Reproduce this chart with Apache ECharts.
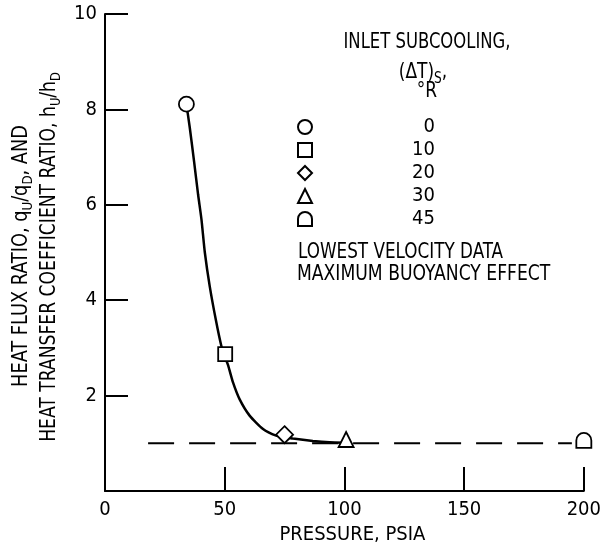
<!DOCTYPE html>
<html>
<head>
<meta charset="utf-8">
<script src="https://cdn.jsdelivr.net/npm/echarts@6/dist/echarts.min.js"></script>
<style>
html,body{margin:0;padding:0;background:#fff;}
#chart{width:604px;height:550px;}
</style>
</head>
<body>
<div id="chart"></div>
<script>
// ---- data ----
var xTicks = [0, 50, 100, 150, 200];
var yTicks = [0, 2, 4, 6, 8, 10];
var subcoolingLabels = ['0', '10', '20', '30', '45'];
var pointPressure = [34, 50.2, 75, 100.7, 200];
var pointRatio = [8.11, 2.87, 1.18, 1.08, 1.06];
// faired curve
var curvePressure = [34.0, 35.4, 37.2, 38.9, 40.3, 41.7, 43.75, 46.25, 48.6, 50.2, 51.4, 53.5, 56.25, 60.4, 66.0, 71.5, 75.0, 78.5, 86.8, 93.75, 100.0];
var curveRatio    = [8.11, 7.62, 6.91, 6.21, 5.69, 5.00, 4.29, 3.60, 3.04, 2.80, 2.64, 2.27, 1.92, 1.58, 1.30, 1.16, 1.13, 1.10, 1.05, 1.02, 1.01];
// reference line (ratio = 1)
var refPressure = [18, 195];
var refRatio = [1.0, 1.0];

var FONT = "'DejaVu Sans Condensed', 'Liberation Sans Narrow', sans-serif";
var dShape = 'path://M0,14 L0,7 A7,7 0 0 1 14,7 L14,14 Z';
var symbols = ['circle', 'rect', 'diamond', 'triangle', dShape];
var symbolSizes = [15, 14, 17, 15, 15];

function zip(a, b) { return a.map(function (v, i) { return [v, b[i]]; }); }

var series = [
  {
    type: 'line', name: 'curve', data: zip(curvePressure, curveRatio),
    smooth: 0.2, showSymbol: false, symbol: 'none',
    lineStyle: { color: '#000', width: 2.5 }, z: 2, silent: true
  },
  {
    type: 'line', name: 'ref', data: zip(refPressure, refRatio),
    showSymbol: false, symbol: 'none',
    lineStyle: { color: '#000', width: 2, type: [26, 15] }, z: 1, silent: true
  }
];
subcoolingLabels.forEach(function (lab, i) {
  series.push({
    type: 'scatter', name: lab,
    data: [[pointPressure[i], pointRatio[i]]],
    symbol: symbols[i], symbolSize: symbolSizes[i], symbolKeepAspect: true,
    itemStyle: { color: '#fff', borderColor: '#000', borderWidth: 1.8, opacity: 1 },
    clip: false,
    z: 5
  });
});

var chart = echarts.init(document.getElementById('chart'), null, { renderer: 'canvas' });
chart.setOption({
  animation: false,
  backgroundColor: '#fff',
  textStyle: { fontFamily: FONT },
  grid: { left: 105, right: 18, top: 14, bottom: 58, containLabel: false },
  xAxis: {
    type: 'value', min: xTicks[0], max: xTicks[xTicks.length - 1], interval: xTicks[1] - xTicks[0],
    name: 'PRESSURE, PSIA', nameLocation: 'middle', nameGap: 34,
    nameTextStyle: { fontFamily: FONT, fontSize: 20, color: '#000', padding: [0, 0, 0, 16] },
    axisLine: { onZero: false, lineStyle: { color: '#000', width: 2 } },
    axisTick: { inside: true, length: 24, lineStyle: { color: '#000', width: 2 } },
    axisLabel: { fontFamily: FONT, fontSize: 20, color: '#000', margin: 9 },
    splitLine: { show: false }
  },
  yAxis: {
    type: 'value', min: yTicks[0], max: yTicks[yTicks.length - 1], interval: yTicks[1] - yTicks[0],
    axisLine: { show: true, onZero: false, lineStyle: { color: '#000', width: 2 } },
    axisTick: { show: true, inside: true, length: 23, lineStyle: { color: '#000', width: 2 } },
    axisLabel: { fontFamily: FONT, fontSize: 20, color: '#000', margin: 8, showMinLabel: false },
    splitLine: { show: false }
  },
  legend: {
    data: subcoolingLabels,
    orient: 'vertical', left: 292, top: 112,
    itemWidth: 14, itemHeight: 14, itemGap: 3,
    selectedMode: false,
    formatter: function (n) { return '{v|' + n + '}'; },
    textStyle: {
      fontFamily: FONT, fontSize: 20, color: '#000', lineHeight: 19,
      rich: { v: { width: 118, align: 'right', fontFamily: FONT, fontSize: 20, lineHeight: 19 } }
    }
  },
  graphic: [
    {
      type: 'text', x: 22, y: 256, rotation: Math.PI / 2, scaleX: 0.94,
      style: {
        text: '{t|HEAT FLUX RATIO, q}{s|U}{t|/q}{s|D}{t|, AND}',
        align: 'center', verticalAlign: 'middle', fill: '#000',
        rich: {
          t: { fontFamily: FONT, fontSize: 21, lineHeight: 21, verticalAlign: 'top' },
          s: { fontFamily: FONT, fontSize: 14, lineHeight: 14, verticalAlign: 'top', padding: [10, 0, 0, 0] }
        }
      }
    },
    {
      type: 'text', x: 50, y: 257, rotation: Math.PI / 2, scaleX: 0.91,
      style: {
        text: '{t|HEAT TRANSFER COEFFICIENT RATIO, h}{s|U}{t|/h}{s|D}',
        align: 'center', verticalAlign: 'middle', fill: '#000',
        rich: {
          t: { fontFamily: FONT, fontSize: 21, lineHeight: 21, verticalAlign: 'top' },
          s: { fontFamily: FONT, fontSize: 14, lineHeight: 14, verticalAlign: 'top', padding: [10, 0, 0, 0] }
        }
      }
    },
    {
      type: 'text', x: 427, y: 43, scaleX: 0.87,
      style: { text: 'INLET SUBCOOLING,', align: 'center', verticalAlign: 'middle', fill: '#000', fontFamily: FONT, fontSize: 21 }
    },
    {
      type: 'text', x: 423, y: 73, scaleX: 0.9,
      style: {
        text: '{t|(ΔT)}{s|S}{t|,}', align: 'center', verticalAlign: 'middle', fill: '#000',
        rich: {
          t: { fontFamily: FONT, fontSize: 21, lineHeight: 21, verticalAlign: 'top' },
          s: { fontFamily: FONT, fontSize: 15, lineHeight: 15, verticalAlign: 'top', padding: [9, 0, 0, 0] }
        }
      }
    },
    {
      type: 'text', x: 427, y: 92, scaleX: 0.9,
      style: { text: '°R', align: 'center', verticalAlign: 'middle', fill: '#000', fontFamily: FONT, fontSize: 21 }
    },
    {
      type: 'text', x: 298, y: 253, scaleX: 0.89,
      style: { text: 'LOWEST VELOCITY DATA', align: 'left', verticalAlign: 'middle', fill: '#000', fontFamily: FONT, fontSize: 21 }
    },
    {
      type: 'text', x: 297, y: 275, scaleX: 0.91,
      style: { text: 'MAXIMUM BUOYANCY EFFECT', align: 'left', verticalAlign: 'middle', fill: '#000', fontFamily: FONT, fontSize: 21 }
    }
  ],
  series: series
});
</script>
</body>
</html>
